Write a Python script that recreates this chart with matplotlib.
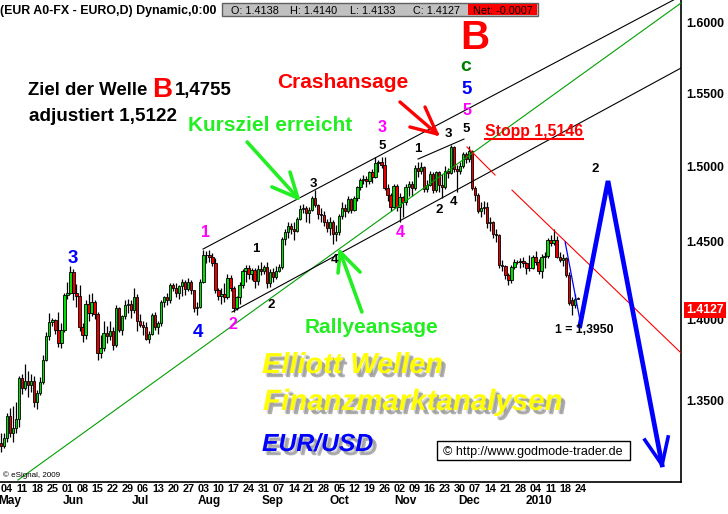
import numpy as np
import pandas as pd
import matplotlib
matplotlib.use("Agg")
import matplotlib.pyplot as plt
import matplotlib.patheffects as pe
from matplotlib.patches import Rectangle
from matplotlib.lines import Line2D
from matplotlib import font_manager

# EUR/USD daily candles, one per business day, 30 Apr 2009 - 22 Jan 2010
days = pd.bdate_range("2009-04-30", "2010-01-22")

opens = [
    1.3245, 1.3225, 1.3272, 1.3404, 1.3301, 1.3331, 1.3386, 1.3635, 1.3575, 1.3620,
    1.3590, 1.3615, 1.3490, 1.3545, 1.3610, 1.3747, 1.3895, 1.3985, 1.3995, 1.3935,
    1.3850, 1.3935, 1.4155, 1.4170, 1.4300, 1.4165, 1.4150, 1.3950, 1.3900, 1.4100,
    1.4040, 1.4110, 1.4035, 1.3790, 1.3820, 1.3915, 1.3895, 1.3930, 1.3840, 1.4075,
    1.3935, 1.4020, 1.4090, 1.4100, 1.4060, 1.4145, 1.3990, 1.3965, 1.3955, 1.3880,
    1.3910, 1.4030, 1.3950, 1.3975, 1.4110, 1.4140, 1.4120, 1.4220, 1.4200, 1.4165,
    1.4210, 1.4240, 1.4195, 1.4240, 1.4185, 1.4070, 1.4080, 1.4240, 1.4410, 1.4415,
    1.4400, 1.4360, 1.4185, 1.4150, 1.4160, 1.4140, 1.4265, 1.4200, 1.4075, 1.4140,
    1.4220, 1.4310, 1.4325, 1.4290, 1.4315, 1.4245, 1.4320, 1.4310, 1.4335, 1.4230,
    1.4300, 1.4270, 1.4310, 1.4335, 1.4515, 1.4560, 1.4600, 1.4580, 1.4570, 1.4650,
    1.4715, 1.4720, 1.4690, 1.4705, 1.4785, 1.4740, 1.4680, 1.4675, 1.4625, 1.4590,
    1.4630, 1.4550, 1.4560, 1.4665, 1.4720, 1.4700, 1.4780, 1.4710, 1.4790, 1.4860,
    1.4910, 1.4915, 1.4900, 1.4960, 1.4930, 1.5020, 1.5030, 1.5010, 1.4855, 1.4805,
    1.4725, 1.4865, 1.4725, 1.4795, 1.4760, 1.4860, 1.4880, 1.4855, 1.4990, 1.4965,
    1.4995, 1.4850, 1.4875, 1.4945, 1.4840, 1.4960, 1.4875, 1.4860, 1.4965, 1.4955,
    1.5130, 1.4980, 1.4970, 1.5000, 1.5080, 1.5050, 1.5105, 1.4855, 1.4805, 1.4700,
    1.4720, 1.4730, 1.4620, 1.4625, 1.4550, 1.4540, 1.4345, 1.4340, 1.4280, 1.4250,
    1.4335, 1.4370, 1.4365, 1.4375, 1.4360, 1.4330, 1.4325, 1.4400, 1.4370, 1.4310,
    1.4400, 1.4405, 1.4510, 1.4490, 1.4510, 1.4400, 1.4380, 1.4390, 1.4285, 1.4120,
    1.4092, 1.4138,
]
highs = [
    1.3300, 1.3300, 1.3422, 1.3452, 1.3465, 1.3490, 1.3645, 1.3660, 1.3720, 1.3680,
    1.3660, 1.3650, 1.3560, 1.3640, 1.3780, 1.3920, 1.4040, 1.4010, 1.4005, 1.4045,
    1.3980, 1.4165, 1.4240, 1.4338, 1.4320, 1.4225, 1.4220, 1.3975, 1.4120, 1.4160,
    1.4170, 1.4120, 1.4050, 1.3900, 1.3990, 1.3960, 1.3990, 1.3950, 1.4090, 1.4080,
    1.4030, 1.4120, 1.4130, 1.4120, 1.4200, 1.4160, 1.4035, 1.3990, 1.3985, 1.3930,
    1.4040, 1.4045, 1.3990, 1.4120, 1.4150, 1.4165, 1.4230, 1.4230, 1.4230, 1.4220,
    1.4260, 1.4250, 1.4265, 1.4250, 1.4190, 1.4110, 1.4260, 1.4445, 1.4440, 1.4445,
    1.4425, 1.4390, 1.4200, 1.4200, 1.4230, 1.4290, 1.4280, 1.4210, 1.4150, 1.4240,
    1.4320, 1.4350, 1.4345, 1.4330, 1.4330, 1.4345, 1.4365, 1.4350, 1.4365, 1.4320,
    1.4330, 1.4340, 1.4355, 1.4530, 1.4580, 1.4625, 1.4620, 1.4630, 1.4660, 1.4740,
    1.4745, 1.4735, 1.4730, 1.4800, 1.4843, 1.4750, 1.4720, 1.4700, 1.4650, 1.4660,
    1.4640, 1.4610, 1.4680, 1.4760, 1.4750, 1.4800, 1.4790, 1.4800, 1.4870, 1.4920,
    1.4940, 1.4935, 1.4970, 1.4980, 1.5060, 1.5045, 1.5060, 1.5065, 1.4880, 1.4820,
    1.4880, 1.4880, 1.4820, 1.4800, 1.4880, 1.4900, 1.4900, 1.5010, 1.5030, 1.5030,
    1.5000, 1.4910, 1.4970, 1.4960, 1.4970, 1.4965, 1.4950, 1.5000, 1.4990, 1.5145,
    1.5135, 1.5010, 1.5030, 1.5100, 1.5100, 1.5140, 1.5110, 1.4870, 1.4820, 1.4760,
    1.4770, 1.4760, 1.4660, 1.4635, 1.4585, 1.4550, 1.4380, 1.4350, 1.4295, 1.4350,
    1.4385, 1.4380, 1.4395, 1.4400, 1.4370, 1.4410, 1.4410, 1.4440, 1.4385, 1.4420,
    1.4430, 1.4520, 1.4545, 1.4580, 1.4535, 1.4430, 1.4420, 1.4400, 1.4300, 1.4140,
    1.4160, 1.4140,
]
lows = [
    1.3190, 1.3215, 1.3248, 1.3278, 1.3248, 1.3300, 1.3337, 1.3540, 1.3560, 1.3520,
    1.3550, 1.3460, 1.3445, 1.3530, 1.3600, 1.3740, 1.3870, 1.3960, 1.3910, 1.3830,
    1.3820, 1.3920, 1.4130, 1.4160, 1.4120, 1.4080, 1.3930, 1.3860, 1.3880, 1.3990,
    1.4020, 1.4000, 1.3745, 1.3760, 1.3800, 1.3850, 1.3870, 1.3810, 1.3830, 1.3920,
    1.3900, 1.4000, 1.4040, 1.4010, 1.4040, 1.3930, 1.3950, 1.3900, 1.3870, 1.3850,
    1.3900, 1.3935, 1.3910, 1.3960, 1.4080, 1.4090, 1.4105, 1.4180, 1.4140, 1.4130,
    1.4150, 1.4155, 1.4180, 1.4160, 1.4045, 1.4030, 1.4070, 1.4230, 1.4360, 1.4370,
    1.4340, 1.4170, 1.4120, 1.4100, 1.4110, 1.4130, 1.4180, 1.4045, 1.4060, 1.4100,
    1.4200, 1.4240, 1.4260, 1.4250, 1.4200, 1.4220, 1.4280, 1.4290, 1.4200, 1.4205,
    1.4240, 1.4255, 1.4300, 1.4320, 1.4480, 1.4520, 1.4550, 1.4510, 1.4560, 1.4640,
    1.4690, 1.4630, 1.4620, 1.4700, 1.4730, 1.4650, 1.4630, 1.4600, 1.4560, 1.4540,
    1.4485, 1.4505, 1.4540, 1.4650, 1.4660, 1.4690, 1.4690, 1.4700, 1.4770, 1.4840,
    1.4880, 1.4860, 1.4880, 1.4890, 1.4920, 1.4960, 1.4990, 1.4840, 1.4770, 1.4700,
    1.4720, 1.4700, 1.4630, 1.4660, 1.4740, 1.4800, 1.4800, 1.4840, 1.4930, 1.4950,
    1.4830, 1.4830, 1.4870, 1.4820, 1.4830, 1.4830, 1.4790, 1.4850, 1.4920, 1.4950,
    1.4960, 1.4830, 1.4950, 1.4990, 1.5020, 1.5030, 1.4840, 1.4770, 1.4690, 1.4660,
    1.4680, 1.4590, 1.4570, 1.4520, 1.4500, 1.4330, 1.4310, 1.4260, 1.4220, 1.4230,
    1.4320, 1.4355, 1.4330, 1.4335, 1.4290, 1.4310, 1.4320, 1.4350, 1.4290, 1.4265,
    1.4330, 1.4395, 1.4470, 1.4480, 1.4390, 1.4370, 1.4340, 1.4270, 1.4090, 1.4028,
    1.4070, 1.4133,
]
closes = [
    1.3225, 1.3272, 1.3404, 1.3301, 1.3331, 1.3386, 1.3635, 1.3575, 1.3620, 1.3590,
    1.3615, 1.3490, 1.3545, 1.3610, 1.3747, 1.3895, 1.3985, 1.3995, 1.3935, 1.3850,
    1.3935, 1.4155, 1.4170, 1.4300, 1.4165, 1.4150, 1.3950, 1.3900, 1.4100, 1.4040,
    1.4110, 1.4035, 1.3790, 1.3820, 1.3915, 1.3895, 1.3930, 1.3840, 1.4075, 1.3935,
    1.4020, 1.4090, 1.4100, 1.4060, 1.4145, 1.3990, 1.3965, 1.3955, 1.3880, 1.3910,
    1.4030, 1.3950, 1.3975, 1.4110, 1.4140, 1.4120, 1.4220, 1.4200, 1.4165, 1.4210,
    1.4240, 1.4195, 1.4240, 1.4185, 1.4070, 1.4080, 1.4240, 1.4410, 1.4415, 1.4400,
    1.4360, 1.4185, 1.4150, 1.4160, 1.4140, 1.4265, 1.4200, 1.4075, 1.4140, 1.4220,
    1.4310, 1.4325, 1.4290, 1.4315, 1.4245, 1.4320, 1.4310, 1.4335, 1.4230, 1.4300,
    1.4270, 1.4310, 1.4335, 1.4515, 1.4560, 1.4600, 1.4580, 1.4570, 1.4650, 1.4715,
    1.4720, 1.4690, 1.4705, 1.4785, 1.4740, 1.4680, 1.4675, 1.4625, 1.4590, 1.4630,
    1.4550, 1.4560, 1.4665, 1.4720, 1.4700, 1.4780, 1.4710, 1.4790, 1.4860, 1.4910,
    1.4915, 1.4900, 1.4960, 1.4930, 1.5020, 1.5030, 1.5010, 1.4855, 1.4805, 1.4725,
    1.4865, 1.4725, 1.4795, 1.4760, 1.4860, 1.4880, 1.4855, 1.4990, 1.4965, 1.4995,
    1.4850, 1.4875, 1.4945, 1.4840, 1.4960, 1.4875, 1.4860, 1.4965, 1.4955, 1.5130,
    1.4980, 1.4970, 1.5000, 1.5080, 1.5050, 1.5105, 1.4855, 1.4805, 1.4700, 1.4720,
    1.4730, 1.4620, 1.4625, 1.4550, 1.4540, 1.4345, 1.4340, 1.4280, 1.4250, 1.4335,
    1.4370, 1.4365, 1.4375, 1.4360, 1.4330, 1.4325, 1.4400, 1.4370, 1.4310, 1.4400,
    1.4405, 1.4510, 1.4490, 1.4510, 1.4400, 1.4380, 1.4390, 1.4285, 1.4105, 1.4092,
    1.4130, 1.4127,
]

week_labels = ["04", "11", "18", "25", "01", "08", "15", "22", "29", "06", "13", "20", "27",
               "03", "10", "17", "24", "31", "07", "14", "21", "28", "05", "12", "19", "26",
               "02", "09", "16", "23", "30", "07", "14", "21", "28", "04", "11", "18", "24"]
month_labels = ["May", "Jun", "Jul", "Aug", "Sep", "Oct", "Nov", "Dec", "2010"]
price_ticks = [1.35, 1.40, 1.45, 1.50, 1.55, 1.60]
last_price = 1.4127

# drawn analysis lines: (bar index, price)
trend_green = ([5.6, 225.2], [1.3023, 1.6145])
channel_top = ([66.9, 225.2], [1.4451, 1.6196])
channel_bottom = ([76.5, 225.2], [1.4047, 1.5679])
sub_channel_top = ([138.1, 153.3], [1.5049, 1.5185])
red_line_short = ([154.3, 163.6], [1.5131, 1.4941])
red_line_long = ([169.2, 225.2], [1.4840, 1.3790])
blue_thin = ([186.8, 191.7], [1.4497, 1.3997])
blue_path = ([191.7, 201.0, 218.9], [1.3960, 1.4901, 1.3112])
blue_head = ([213.2, 218.9, 220.9], [1.3260, 1.3112, 1.3278])
crash_arrow = [([132.1, 144.4], [1.5441, 1.5220]), ([140.4, 144.4], [1.5406, 1.5220]),
               ([135.4, 144.4], [1.5268, 1.5220])]
kursziel_arrow = [([81.5, 98.3], [1.5165, 1.4787]), ([95.7, 98.3], [1.4961, 1.4787]),
                  ([89.7, 98.3], [1.4861, 1.4787])]
rally_arrow = [([119.5, 112.3], [1.4047, 1.4432]), ([118.9, 112.3], [1.4302, 1.4432]),
               ([111.6, 112.3], [1.4296, 1.4432])]

# ---------------------------------------------------------------
names = {f.name for f in font_manager.fontManager.ttflist}
NARROW = "Liberation Sans Narrow" in names
narrow_family = ["Liberation Sans Narrow"] if NARROW else ["Liberation Sans"]
plt.rcParams["font.family"] = ["Liberation Sans", "DejaVu Sans"]

W, H = 728, 514
fig = plt.figure(figsize=(W / 100, H / 100), dpi=100)
ax = fig.add_axes([0, 1 - 482 / H, 681 / W, 482 / H])


def fx(x):
    return x / W


def fy(y):
    return 1 - y / H


def put(x, y, s, **kw):
    kw.setdefault("va", "baseline")
    kw.setdefault("fontweight", "bold")
    fig.text(fx(x), fy(y), s, **kw)


x = np.arange(len(closes))
o = np.array(opens)
c = np.array(closes)
up = c >= o
body_col = np.where(up, "#00e000", "#e80000")

ax.vlines(x, lows, highs, colors="black", linewidth=0.9, zorder=2)
ax.bar(x, np.abs(c - o), bottom=np.minimum(o, c), width=0.78, color=body_col,
       edgecolor="black", linewidth=0.6, zorder=3)

ax.set_yscale("log")
ax.set_ylim(1.30115, 1.61666)
ax.set_xlim(-0.33, 225.17)

# analysis lines
ax.plot(*trend_green, color="#00a000", lw=0.8, zorder=4)
ax.plot(*channel_top, color="black", lw=0.8, zorder=4)
ax.plot(*channel_bottom, color="black", lw=0.8, zorder=4)
ax.plot(*sub_channel_top, color="black", lw=0.8, zorder=4)
ax.plot(*red_line_short, color="red", lw=0.8, zorder=4)
ax.plot(*red_line_long, color="red", lw=0.8, zorder=4)
ax.plot(*blue_thin, color="blue", lw=0.9, zorder=4)
ax.plot(*blue_path, color="#0000ff", lw=3.4, zorder=5, solid_joinstyle="miter")
ax.plot(*blue_head, color="#0000ff", lw=2.6, zorder=5)
for seg in crash_arrow:
    ax.plot(*seg, color="#ff0000", lw=2.4, zorder=5, solid_capstyle="round")
for seg in kursziel_arrow:
    ax.plot(*seg, color="#22ee22", lw=2.6, zorder=5, solid_capstyle="round")
for seg in rally_arrow:
    ax.plot(*seg, color="#22ee22", lw=2.6, zorder=5, solid_capstyle="round")

# axes styling
for side in ["left", "top"]:
    ax.spines[side].set_visible(False)
ax.spines["right"].set_linewidth(1.2)
ax.spines["bottom"].set_linewidth(1.2)
ax.yaxis.tick_right()
ax.yaxis.set_minor_locator(matplotlib.ticker.NullLocator())
ax.set_yticks(price_ticks)
ax.set_yticklabels([f"{p:.4f}" for p in price_ticks], fontsize=8.8, fontweight="bold")
ax.tick_params(axis="y", length=0, pad=4)

full_days = pd.bdate_range("2009-04-30", "2010-01-25")
mondays = np.where(full_days.weekday == 0)[0]
ax.set_xticks(mondays)
ax.set_xticklabels(week_labels, fontsize=9.5 if NARROW else 7.8, fontweight="bold",
                   family=narrow_family)
ax.tick_params(axis="x", length=0, pad=1.5)

month_start = [i for i in range(1, len(days)) if days[i].month != days[i - 1].month]
for m, i0 in zip(month_labels, month_start):
    ax.annotate(m, xy=(i0 + 2, 0), xycoords=("data", "axes fraction"),
                xytext=(0, -13.9), textcoords="offset points", ha="center", va="center",
                fontsize=9.5 if NARROW else 8.6, fontweight="bold", family=narrow_family)

# last price box on the axis
ax.annotate(f"{last_price:.4f}", xy=(1, last_price), xycoords=("axes fraction", "data"),
            xytext=(3.5, -7.5), textcoords="offset points", ha="left", va="center",
            fontsize=8.8, fontweight="bold", color="white",
            bbox=dict(boxstyle="square,pad=0.18", fc="#ff0000", ec="none"))

# header
put(0, 14, "(EUR A0-FX - EURO,D) Dynamic,0:00", fontsize=10.9 if NARROW else 8.9,
    family=narrow_family)
fig.add_artist(Rectangle((fx(222), fy(16)), (538 - 222) / W, 13 / H, transform=fig.transFigure,
                         fc="#c0c0c0", ec="#606060", lw=1))
fig.add_artist(Rectangle((fx(468), fy(15)), (537 - 468) / W, 11 / H, transform=fig.transFigure,
                         fc="#ff0000", ec="none"))
for xx, s in [(231, "O: 1.4138"), (290, "H: 1.4140"), (350, "L: 1.4133"),
              (413, "C: 1.4127"), (473, "Net: -0.0007")]:
    put(xx, 13.5, s, fontsize=7.8, fontweight="normal")

# headline texts
put(28, 95, "Ziel der Welle", fontsize=13.4)
put(152, 97, "B", fontsize=20, color="red")
put(175, 95, "1,4755", fontsize=13.4)
put(29, 121, "adjustiert 1,5122", fontsize=13.6)
put(277, 88, "Crashansage", fontsize=15, color="#ff0000")
put(188, 131, "Kursziel erreicht", fontsize=15, color="#22ee22")
put(305, 333, "Rallyeansage", fontsize=15, color="#22ee22")
put(485, 136, "Stopp 1,5146", fontsize=11.3, color="#ff0000")
fig.add_artist(Line2D([fx(485), fx(583)], [fy(139.5), fy(139.5)], transform=fig.transFigure,
                      color="#ff0000", lw=1.5))
put(555, 333, "1 = 1,3950", fontsize=8.8)

put(460, 49, "B", fontsize=29, color="#ff0000")
put(466, 71, "c", fontsize=14, color="#008000", ha="center")
put(467, 94, "5", fontsize=13.5, color="#0000ff", ha="center")
put(467, 115, "5", fontsize=11.5, color="#ff00ff", ha="center")

wave_labels = [
    ("3", 73, 262.7, "#0000ff", 13.5), ("4", 198, 336.7, "#0000ff", 13.5),
    ("1", 206, 237.3, "#ff00ff", 11.5), ("2", 233, 329, "#ff00ff", 11.5),
    ("1", 256, 251.7, "black", 9.5), ("2", 271, 308.3, "black", 9.5),
    ("3", 313, 186.7, "black", 9.5), ("4", 334.5, 262.7, "black", 9.5),
    ("5", 382, 149, "black", 9.5), ("3", 382.5, 132.3, "#ff00ff", 11.5),
    ("1", 418, 151.7, "black", 9.5), ("4", 400.5, 236.7, "#ff00ff", 11.5),
    ("2", 438.7, 213.3, "black", 9.5), ("3", 448, 136.7, "black", 9.5),
    ("4", 453, 205, "black", 9.5), ("5", 466, 131.7, "black", 9.5),
    ("2", 595, 171.7, "black", 9.5),
]
for s, xx, yy, col, fs in wave_labels:
    put(xx, yy, s, fontsize=fs, color=col, ha="center")

shadow = [pe.SimplePatchShadow(offset=(3, -3), shadow_rgbFace="#707070", alpha=0.55),
          pe.SimplePatchShadow(offset=(2, -2), shadow_rgbFace="#909090", alpha=0.4),
          pe.Normal()]
put(262, 373, "Elliott Wellen", fontsize=20.8, color="#ffff00", style="italic",
    path_effects=shadow)
put(263, 410, "Finanzmarktanalysen", fontsize=21.2, color="#ffff00", style="italic",
    path_effects=shadow)
put(262, 451, "EUR/USD", fontsize=17.8, color="#0000ff", style="italic", path_effects=shadow)

fig.add_artist(Rectangle((fx(437), fy(460)), (630 - 437) / W, 19 / H, transform=fig.transFigure,
                         fc="white", ec="black", lw=1))
put(443, 455, "\u00a9 http://www.godmode-trader.de", fontsize=9, fontweight="normal")
put(3, 477, "\u00a9 eSignal, 2009", fontsize=5.8, fontweight="normal")

fig.savefig("out.png", dpi=100)
